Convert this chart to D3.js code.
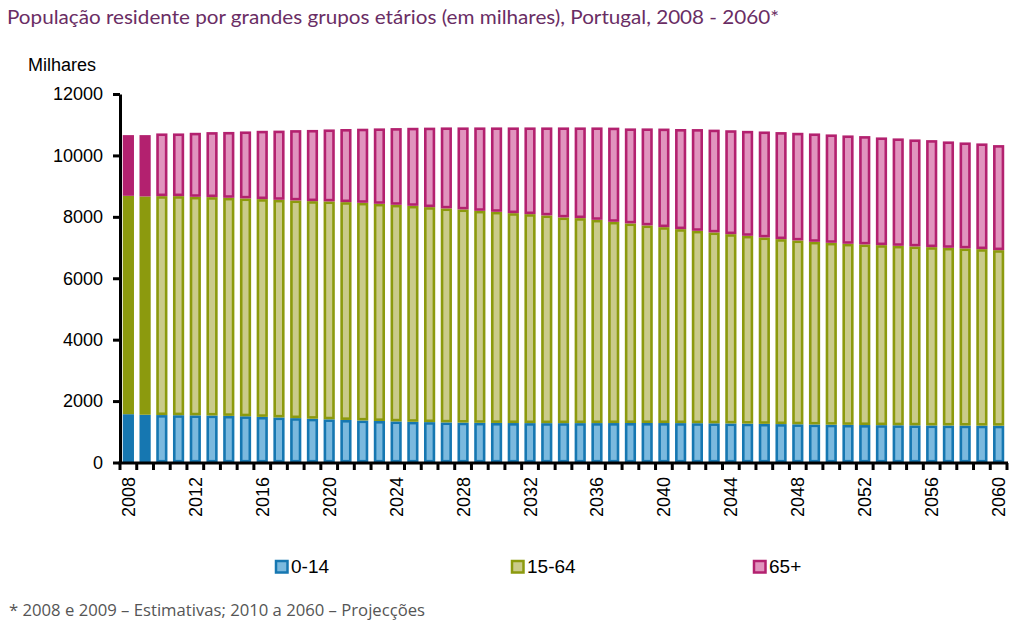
<!DOCTYPE html>
<html><head><meta charset="utf-8">
<script src="https://cdn.jsdelivr.net/npm/d3@7"></script>
<style>
body{margin:0;background:#fff;}
svg{display:block;}
</style></head>
<body>
<svg id="c" width="1023" height="623"></svg>
<script>
const years = d3.range(2008, 2061);
const estimateYears = [2008, 2009];
const tickLabelYears = [2008,2012,2016,2020,2024,2028,2032,2036,2040,2044,2048,2052,2056,2060];
const yTicks = [0,2000,4000,6000,8000,10000,12000];
const seriesNames = ["0-14","15-64","65+"];
const age0_14 = [1573,1555,1545,1540,1535,1530,1518,1505,1485,1466,1445,1425,1405,1385,1368,1352,1338,1325,1315,1305,1298,1292,1288,1285,1283,1282,1282,1283,1284,1285,1286,1286,1285,1283,1280,1276,1271,1265,1258,1251,1244,1237,1231,1225,1220,1216,1212,1209,1206,1204,1202,1200,1198];
const age15_64 = [7111,7109,7129,7134,7116,7112,7101,7094,7092,7088,7089,7086,7097,7094,7088,7071,7053,7033,7001,6969,6943,6903,6875,6835,6805,6764,6698,6675,6618,6552,6499,6434,6379,6316,6264,6216,6165,6116,6071,6023,5987,5949,5922,5896,5881,5862,5843,5827,5807,5786,5769,5748,5717];
const age65p = [1977,1997,2042,2042,2086,2117,2146,2182,2225,2254,2290,2319,2344,2381,2414,2457,2499,2542,2589,2638,2671,2717,2749,2792,2824,2866,2932,2954,3010,3068,3095,3160,3211,3261,3314,3348,3384,3419,3451,3486,3506,3530,3531,3530,3528,3508,3499,3485,3485,3466,3452,3443,3421];

const darkCol = ["#1677b1","#8c9a0e","#b3216f"];
const lightCol = ["#7bb9de","#cacb8a","#e194be"];

const svg = d3.select("#c");
const x = d3.scaleBand().domain(years).range([120, 1007]).paddingInner(0.33).paddingOuter(0.165);
const y = d3.scaleLinear().domain([0, 12000]).range([462.5, 94]);

const table = years.map((yr, i) => ({year: yr, "0-14": age0_14[i], "15-64": age15_64[i], "65+": age65p[i]}));
const stacked = d3.stack().keys(seriesNames)(table);

const sw = 2.6;
stacked.forEach((layer, k) => {
  svg.append("g").selectAll("rect").data(layer).join("rect")
    .each(function(d){
      const est = estimateYears.includes(d.data.year);
      const x0 = x(d.data.year), bw = x.bandwidth();
      const top = y(d[1]), bot = y(d[0]);
      const r = d3.select(this);
      if (est) {
        r.attr("x", x0).attr("y", top).attr("width", bw).attr("height", bot - top)
         .attr("fill", darkCol[k]);
      } else {
        r.attr("x", x0 + sw/2).attr("y", top + sw/2).attr("width", bw - sw).attr("height", Math.max(0, bot - top - sw))
         .attr("fill", lightCol[k]).attr("stroke", darkCol[k]).attr("stroke-width", sw);
      }
    });
});

// Y axis
const yAxis = d3.axisLeft(y).tickValues(yTicks).tickSize(7).tickSizeOuter(0).tickPadding(10).tickFormat(d3.format("d"));
const gy = svg.append("g").attr("transform", "translate(120,0)").call(yAxis);
gy.select(".domain").attr("stroke", "#000").attr("stroke-width", 3);
gy.selectAll(".tick line").attr("stroke", "#000").attr("stroke-width", 3);
gy.selectAll(".tick text").attr("font-family", "Liberation Sans, Arial, sans-serif").attr("font-size", 18).attr("fill", "#000").attr("x", -17);

// X axis
const step = x.step(), gap = step - x.bandwidth();
const bounds = years.map(yr => x(yr) - gap/2).concat([x(years[years.length-1]) + x.bandwidth() + gap/2]);
const gx = svg.append("g");
gx.append("line").attr("x1", 118.5).attr("x2", bounds[bounds.length-1] + 1).attr("y1", 463).attr("y2", 463)
  .attr("stroke", "#000").attr("stroke-width", 3);
gx.selectAll("line.t").data(bounds).join("line").attr("class","t")
  .attr("x1", d => d).attr("x2", d => d).attr("y1", 463).attr("y2", 470)
  .attr("stroke", "#000").attr("stroke-width", 3);
gx.selectAll("text").data(tickLabelYears).join("text")
  .attr("transform", d => `translate(${x(d) + x.bandwidth()/2},477) rotate(-90)`)
  .attr("text-anchor", "end").attr("dy", "0.36em")
  .attr("font-family", "Liberation Sans, Arial, sans-serif").attr("font-size", 18).attr("fill", "#000")
  .text(d => d);

// Y axis title
svg.append("text").attr("x", 28).attr("y", 71).attr("font-family", "Liberation Sans, Arial, sans-serif")
  .attr("font-size", 18).attr("fill", "#000").text("Milhares");

// Title
svg.append("text").attr("x", 7).attr("y", 24).attr("font-family", "Lato, 'Open Sans', sans-serif")
  .attr("font-size", 19.5).attr("fill", "#6a2d64")
  .attr("textLength", 772).attr("lengthAdjust", "spacingAndGlyphs")
  .text("População residente por grandes grupos etários (em milhares), Portugal, 2008 - 2060*");

// Legend
const legendX = [275, 511, 753];
const lg = svg.append("g");
seriesNames.forEach((n, k) => {
  lg.append("rect").attr("x", legendX[k] + 1).attr("y", 560 + 1).attr("width", 11.5).attr("height", 11.5)
    .attr("fill", lightCol[k]).attr("stroke", darkCol[k]).attr("stroke-width", 2.5);
  lg.append("text").attr("x", legendX[k] + 16).attr("y", 573)
    .attr("font-family", "Liberation Sans, Arial, sans-serif").attr("font-size", 19).attr("fill", "#000").text(n);
});

// Footnote
svg.append("text").attr("x", 9).attr("y", 616).attr("font-family", "'Open Sans', 'Noto Sans', sans-serif")
  .attr("font-size", 15.5).attr("fill", "#555")
  .attr("textLength", 416).attr("lengthAdjust", "spacingAndGlyphs")
  .text("* 2008 e 2009 – Estimativas; 2010 a 2060 – Projecções");
</script>
</body></html>
